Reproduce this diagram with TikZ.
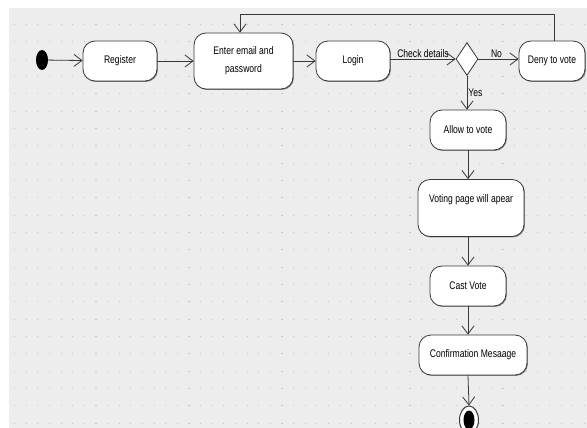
\documentclass[tikz,border=0pt]{standalone}
\usepackage{fontspec}
\setmainfont[FakeStretch=0.78]{Liberation Sans}
\usetikzlibrary{shapes.geometric, arrows.meta, shadows}
\definecolor{sheet}{HTML}{EDEDED}
\definecolor{griddot}{HTML}{C6C6C6}
\definecolor{edge}{HTML}{383838}

\begin{document}
\begin{tikzpicture}[x=1pt, y=-1pt,
            act/.style={draw=edge, fill=white, line width=0.8pt, rounded corners=12pt,
                minimum height=40pt, align=center, font=\fontsize{11}{18}\selectfont,
                drop shadow={shadow xshift=0.9pt, shadow yshift=-0.9pt, fill=gray, opacity=1}},
            flow/.style={draw=edge, line width=0.8pt, -{Straight Barb[length=8pt, width=12pt]}},
            lbl/.style={font=\fontsize{11}{12}\selectfont, inner sep=1pt}]
            \useasboundingbox (0,0) rectangle (587,428);
            \fill[sheet] (9,8) rectangle (587,428);

            % dotted grid of the editor
            \foreach \i in {0,...,49}
                \foreach \j in {0,...,23}
                    {\fill[griddot] (14+11.63*\i,24+17.33*\j) rectangle +(1.1,1.1);}

            \node[ellipse, fill=black, minimum width=12pt, minimum height=20pt, inner sep=0] (start) at (42,60) {};
            \node[act, minimum width=74pt] (register) at (120,61) {Register};
            \node[act, minimum width=99pt, minimum height=56pt] (enter) at (243.5,61) {Enter email and\\password};
            \node[act, minimum width=74pt] (login) at (353,61) {Login};
            \node[diamond, draw=edge, fill=white, line width=0.8pt, minimum width=22pt, minimum height=33pt, inner sep=0] (check) at (467,59) {};
            \node[act, minimum width=66pt] (deny) at (552,61) {Deny to vote};

            \node[act, minimum width=76pt] (allow) at (468,130) {Allow to vote};
            \node[act, minimum width=106pt, minimum height=57pt] (page) at (471,208) {Voting page will apear\\\mbox{}};
            \node[act, minimum width=76pt] (cast) at (468,286) {Cast Vote};
            \node[act, minimum width=108pt] (confirm) at (473,355) {Confirmation Mesaage};
            \node[ellipse, draw=edge, fill=white, line width=1pt, minimum width=19pt, minimum height=28pt, inner sep=0,
                path picture={\fill[black] (path picture bounding box.center) ellipse [x radius=5.5pt, y radius=9.5pt];}] (finish) at (469,420) {};

            \draw[flow] (start) -- (register);
            \draw[flow] (register) -- (enter);
            \draw[flow] (enter) -- (login);
            \draw[flow] (login.east |- check.west) -- node[lbl, above] {Check details} (check.west);
            \draw[flow] (check.east) -- node[lbl, above, pos=0.45] {No} (deny.west |- check.east);
            \draw[flow] (check.south) -- node[lbl, right, pos=0.5] {Yes} (check.south |- allow.north);
            \draw[flow] ([xshift=2pt]deny.north) -- ++(0,-26) -| ([xshift=-3.5pt]enter.north);

            \draw[flow] (allow.south) -- (allow.south |- page.north);
            \draw[flow] (allow.south |- page.south) -- (cast.north);
            \draw[flow] (cast.south) -- (cast.south |- confirm.north);
            \draw[flow] (cast.south |- confirm.south) -- (finish.north);
        \end{tikzpicture}
\end{document}
